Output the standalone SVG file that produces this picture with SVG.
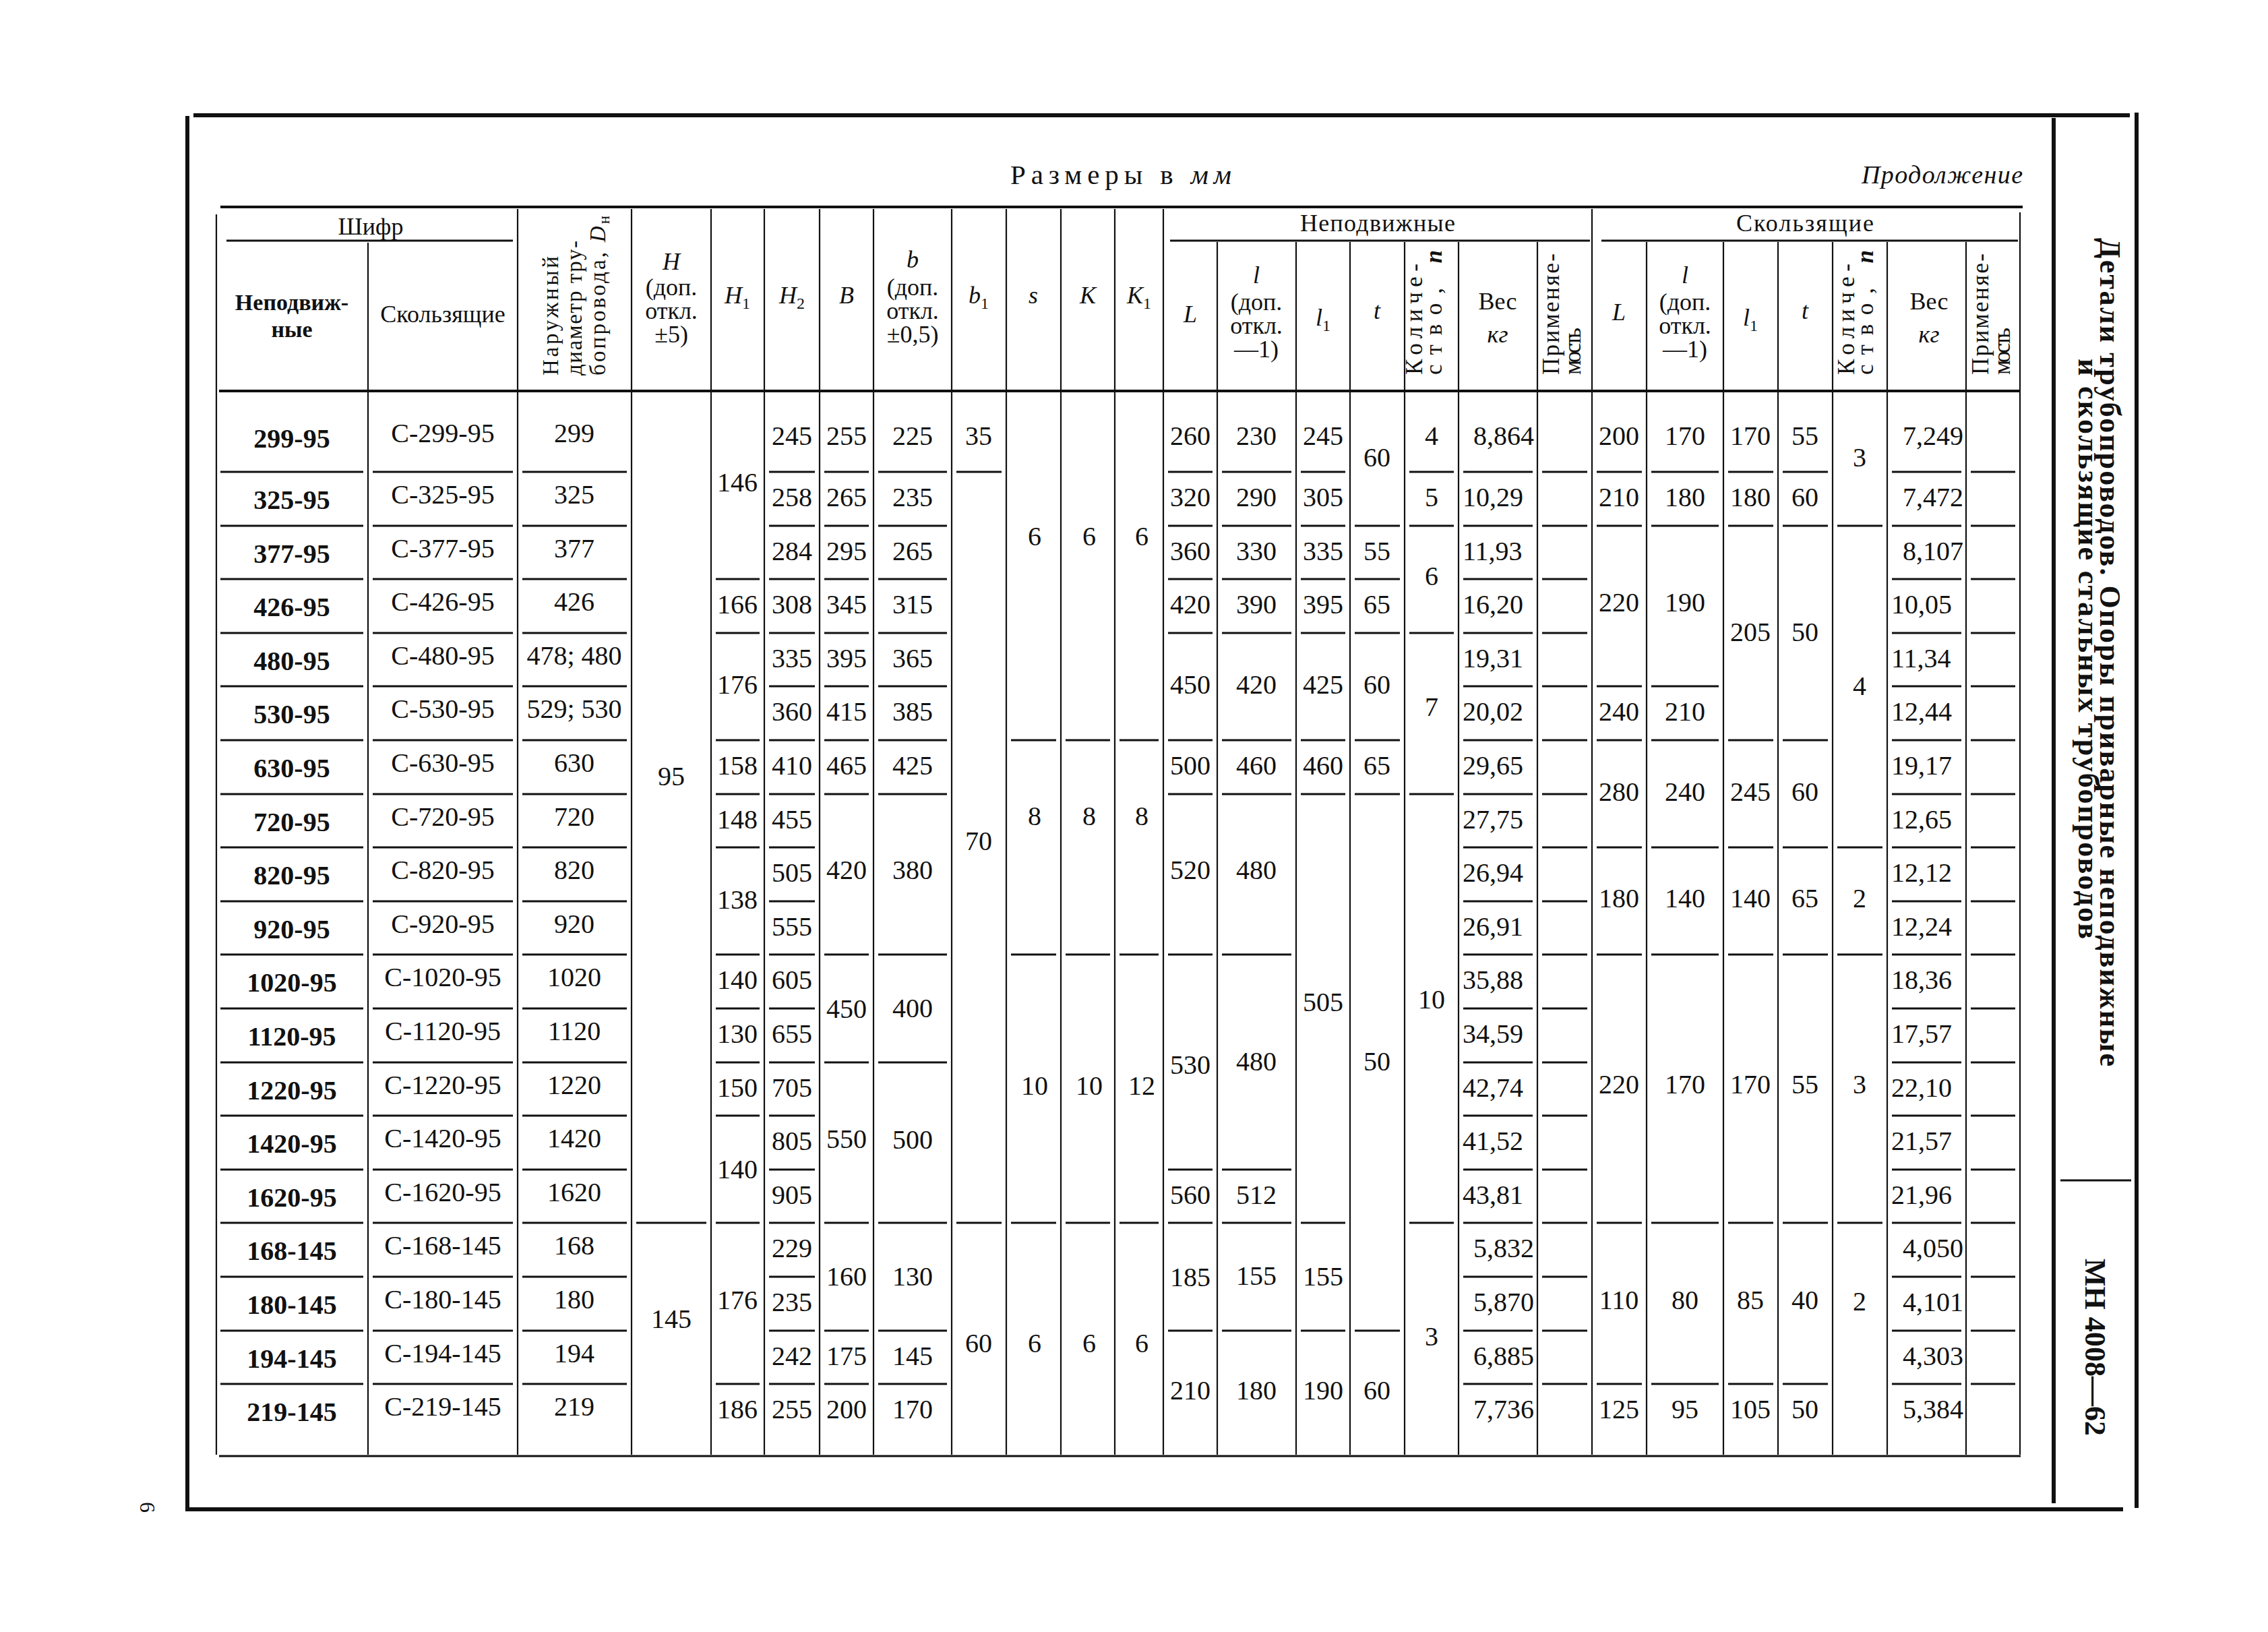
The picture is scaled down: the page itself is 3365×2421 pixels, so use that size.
<svg xmlns="http://www.w3.org/2000/svg" width="3365" height="2421" viewBox="0 0 3365 2421">
<style>
text{font-family:"Liberation Serif","Times New Roman",serif;fill:#111}
.d{font-size:40px;text-anchor:middle}
.b{font-weight:bold}
.st{text-anchor:start}
.en{text-anchor:end}
.h{font-size:36px;text-anchor:middle}
.i{font-style:italic}
.sub{font-size:24px;font-style:normal}
.rv{font-size:33px}
.rq{font-size:35px}
.ttl{font-size:44px;font-weight:bold}
.fr{stroke:#111;stroke-width:6;fill:none}
.tl{stroke:#111;stroke-width:4;fill:none}
.v{stroke:#111;stroke-width:2.2;fill:none}
.sp{stroke:#111;stroke-width:3;fill:none}
</style>
<rect width="3365" height="2421" fill="#fff"/>

<g id="frame">
<path class="fr" d="M287 171H3160M278 172V2242M278 2239H3150M3170 167V2237M3047 175V2230"/>
<path class="sp" d="M3057 1751H3162"/>
</g>

<g id="grid">
<path class="tl" d="M327 307H3001M325 580H2996"/>
<path class="sp" d="M325 2160H2998M336 357H761M1736 357H2359M2376 357H2994"/>
<path class="v" d="M321 318V2158M546 360V2158M768 310V2158M937 310V2158M1055 310V2158M1134 310V2158M1216 310V2158M1296 310V2158M1412 310V2158M1493 310V2158M1574 310V2158M1654 310V2158M1726 310V2158M1806 359V2158M1923 359V2158M2003 359V2158M2084 359V2158M2164 359V2158M2281 359V2158M2362 310V2158M2443 359V2158M2557 359V2158M2638 359V2158M2719 359V2158M2800 359V2158M2917 359V2158M2997 315V2158"/>
<path class="sp" d="M327 700h212m14 0h208m14 0h155m211 0h68m962 0h103m14 0h67m452 0h103m14 0h66
M327 780h212m14 0h208m14 0h155m211 0h68m962 0h103m14 0h67m452 0h103m14 0h66
M327 859h212m14 0h208m14 0h155m211 0h68m962 0h103m14 0h67m452 0h103m14 0h66
M327 939h212m14 0h208m14 0h155m211 0h68m962 0h103m14 0h67m452 0h103m14 0h66
M327 1018h212m14 0h208m14 0h155m211 0h68m962 0h103m14 0h67m452 0h103m14 0h66
M327 1098h212m14 0h208m14 0h155m211 0h68m962 0h103m14 0h67m452 0h103m14 0h66
M327 1178h212m14 0h208m14 0h155m211 0h68m962 0h103m14 0h67m452 0h103m14 0h66
M327 1257h212m14 0h208m14 0h155m211 0h68m962 0h103m14 0h67m452 0h103m14 0h66
M327 1337h212m14 0h208m14 0h155m211 0h68m962 0h103m14 0h67m452 0h103m14 0h66
M327 1416h212m14 0h208m14 0h155m211 0h68m962 0h103m14 0h67m452 0h103m14 0h66
M327 1496h212m14 0h208m14 0h155m211 0h68m962 0h103m14 0h67m452 0h103m14 0h66
M327 1576h212m14 0h208m14 0h155m211 0h68m962 0h103m14 0h67m452 0h103m14 0h66
M327 1655h212m14 0h208m14 0h155m211 0h68m962 0h103m14 0h67m452 0h103m14 0h66
M327 1735h212m14 0h208m14 0h155m211 0h68m962 0h103m14 0h67m452 0h103m14 0h66
M327 1814h212m14 0h208m14 0h155m211 0h68m962 0h103m14 0h67m452 0h103m14 0h66
M327 1894h212m14 0h208m14 0h155m211 0h68m962 0h103m14 0h67m452 0h103m14 0h66
M327 1974h212m14 0h208m14 0h155m211 0h68m962 0h103m14 0h67m452 0h103m14 0h66
M327 2053h212m14 0h208m14 0h155m211 0h68m962 0h103m14 0h67m452 0h103m14 0h66"/>
<path class="sp" d="M944 1814H1048
M1062 859H1127M1062 939H1127M1062 1098H1127M1062 1178H1127M1062 1257H1127M1062 1416H1127M1062 1496H1127M1062 1576H1127M1062 1655H1127M1062 1814H1127M1062 2053H1127
M1223 700H1289M1223 780H1289M1223 859H1289M1223 939H1289M1223 1018H1289M1223 1098H1289M1223 1178H1289M1223 1416H1289M1223 1576H1289M1223 1814H1289M1223 1974H1289M1223 2053H1289
M1303 700H1405M1303 780H1405M1303 859H1405M1303 939H1405M1303 1018H1405M1303 1098H1405M1303 1178H1405M1303 1416H1405M1303 1576H1405M1303 1814H1405M1303 1974H1405M1303 2053H1405
M1419 700H1486M1419 1814H1486
M1500 1098H1567M1500 1416H1567M1500 1814H1567
M1581 1098H1647M1581 1416H1647M1581 1814H1647
M1661 1098H1719M1661 1416H1719M1661 1814H1719
M1733 700H1799M1733 780H1799M1733 859H1799M1733 939H1799M1733 1098H1799M1733 1178H1799M1733 1416H1799M1733 1735H1799M1733 1814H1799M1733 1974H1799
M1813 700H1916M1813 780H1916M1813 859H1916M1813 939H1916M1813 1098H1916M1813 1178H1916M1813 1416H1916M1813 1735H1916M1813 1814H1916M1813 1974H1916
M1930 700H1996M1930 780H1996M1930 859H1996M1930 939H1996M1930 1098H1996M1930 1178H1996M1930 1814H1996M1930 1974H1996
M2010 780H2077M2010 859H2077M2010 939H2077M2010 1098H2077M2010 1178H2077M2010 1974H2077
M2091 700H2157M2091 780H2157M2091 939H2157M2091 1178H2157M2091 1814H2157
M2369 700H2436M2369 780H2436M2369 1018H2436M2369 1098H2436M2369 1257H2436M2369 1416H2436M2369 1814H2436M2369 2053H2436
M2450 700H2550M2450 780H2550M2450 1018H2550M2450 1098H2550M2450 1257H2550M2450 1416H2550M2450 1814H2550M2450 2053H2550
M2564 700H2631M2564 780H2631M2564 1098H2631M2564 1257H2631M2564 1416H2631M2564 1814H2631M2564 2053H2631
M2645 700H2712M2645 780H2712M2645 1098H2712M2645 1257H2712M2645 1416H2712M2645 1814H2712M2645 2053H2712
M2726 780H2793M2726 1257H2793M2726 1416H2793M2726 1814H2793"/>
</g>

<g id="captions">
<text x="1499" y="273" style="font-size:41px" textLength="328" lengthAdjust="spacing">Размеры в <tspan font-style="italic">мм</tspan></text>
<text x="2762" y="272" style="font-size:38px" font-style="italic" textLength="239" lengthAdjust="spacing">Продолжение</text>
</g>

<g id="title">
<text class="ttl" transform="translate(3116,353) rotate(90)" textLength="1229" lengthAdjust="spacing">Детали трубопроводов. Опоры приварные неподвижные</text>
<text class="ttl" transform="translate(3084,532) rotate(90)" textLength="861" lengthAdjust="spacing">и скользящие стальных трубопроводов</text>
<text class="ttl" transform="translate(3094,1867) rotate(90)" textLength="263" lengthAdjust="spacing">МН 4008—62</text>
<text transform="translate(208,2236) rotate(90)" style="font-size:32px" text-anchor="middle">6</text>
</g>

<g id="header">
<text class="h" x="550" y="348">Шифр</text>
<text class="h b" x="433" y="460" style="font-size:34px">Неподвиж-</text>
<text class="h b" x="433" y="500" style="font-size:34px">ные</text>
<text class="h" x="657" y="478">Скользящие</text>
<text class="rv" transform="translate(828,557) rotate(-90)" textLength="177" lengthAdjust="spacing">Наружный</text>
<text class="rv" transform="translate(863,557) rotate(-90)" textLength="200" lengthAdjust="spacing">диаметр тру-</text>
<text class="rv" transform="translate(898,557) rotate(-90)" textLength="237" lengthAdjust="spacing">бопровода, <tspan font-style="italic">D</tspan><tspan font-size="23" dy="6">н</tspan></text>
<text class="h i" x="996" y="400">H</text>
<text class="h" x="996" y="438">(доп.</text>
<text class="h" x="996" y="473">откл.</text>
<text class="h" x="996" y="508">±5)</text>
<text class="h i" x="1094" y="450">H<tspan class="sub" dy="8">1</tspan></text>
<text class="h i" x="1175" y="450">H<tspan class="sub" dy="8">2</tspan></text>
<text class="h i" x="1256" y="450">B</text>
<text class="h i" x="1354" y="397">b</text>
<text class="h" x="1354" y="438">(доп.</text>
<text class="h" x="1354" y="473">откл.</text>
<text class="h" x="1354" y="508">±0,5)</text>
<text class="h i" x="1452" y="450">b<tspan class="sub" dy="8">1</tspan></text>
<text class="h i" x="1533" y="450">s</text>
<text class="h i" x="1614" y="450">K</text>
<text class="h i" x="1690" y="450">K<tspan class="sub" dy="8">1</tspan></text>
<text class="h" x="2044" y="343" textLength="230" lengthAdjust="spacing">Неподвижные</text>
<text class="h i" x="1766" y="478">L</text>
<text class="h i" x="1864" y="420">l</text>
<text class="h" x="1864" y="460">(доп.</text>
<text class="h" x="1864" y="495">откл.</text>
<text class="h" x="1864" y="530">—1)</text>
<text class="h i" x="1963" y="483">l<tspan class="sub" dy="8">1</tspan></text>
<text class="h i" x="2043" y="473">t</text>
<text class="rq" transform="translate(2110,556) rotate(-90)" textLength="165" lengthAdjust="spacing">Количе-</text>
<text class="rq" transform="translate(2139,556) rotate(-90)" textLength="185" lengthAdjust="spacing">ство, <tspan class="b i">n</tspan></text>
<text class="h" x="2222" y="459">Вес</text>
<text class="h i" x="2222" y="508">кг</text>
<text class="rq" transform="translate(2313,556) rotate(-90)" textLength="180" lengthAdjust="spacing">Применяе-</text>
<text class="rq" transform="translate(2345,556) rotate(-90)" textLength="70" lengthAdjust="spacing">мость</text>
<text class="h" x="2678" y="343" textLength="204" lengthAdjust="spacing">Скользящие</text>
<text class="h i" x="2402" y="475">L</text>
<text class="h i" x="2500" y="420">l</text>
<text class="h" x="2500" y="460">(доп.</text>
<text class="h" x="2500" y="495">откл.</text>
<text class="h" x="2500" y="530">—1)</text>
<text class="h i" x="2597" y="483">l<tspan class="sub" dy="8">1</tspan></text>
<text class="h i" x="2678" y="473">t</text>
<text class="rq" transform="translate(2751,556) rotate(-90)" textLength="165" lengthAdjust="spacing">Количе-</text>
<text class="rq" transform="translate(2779,556) rotate(-90)" textLength="185" lengthAdjust="spacing">ство, <tspan class="b i">n</tspan></text>
<text class="h" x="2862" y="459">Вес</text>
<text class="h i" x="2862" y="508">кг</text>
<text class="rq" transform="translate(2950,556) rotate(-90)" textLength="180" lengthAdjust="spacing">Применяе-</text>
<text class="rq" transform="translate(2982,556) rotate(-90)" textLength="70" lengthAdjust="spacing">мость</text>
</g>

<g id="col-A" class="d b">
<text x="433" y="664">299-95</text><text x="433" y="755">325-95</text><text x="433" y="835">377-95</text><text x="433" y="914">426-95</text><text x="433" y="994">480-95</text><text x="433" y="1073">530-95</text><text x="433" y="1153">630-95</text><text x="433" y="1233">720-95</text><text x="433" y="1312">820-95</text><text x="433" y="1392">920-95</text><text x="433" y="1471">1020-95</text><text x="433" y="1551">1120-95</text><text x="433" y="1631">1220-95</text><text x="433" y="1710">1420-95</text><text x="433" y="1790">1620-95</text><text x="433" y="1869">168-145</text><text x="433" y="1949">180-145</text><text x="433" y="2029">194-145</text><text x="433" y="2108">219-145</text>
</g>
<g id="col-B" class="d">
<text x="657" y="656">С-299-95</text><text x="657" y="747">С-325-95</text><text x="657" y="827">С-377-95</text><text x="657" y="906">С-426-95</text><text x="657" y="986">С-480-95</text><text x="657" y="1065">С-530-95</text><text x="657" y="1145">С-630-95</text><text x="657" y="1225">С-720-95</text><text x="657" y="1304">С-820-95</text><text x="657" y="1384">С-920-95</text><text x="657" y="1463">С-1020-95</text><text x="657" y="1543">С-1120-95</text><text x="657" y="1623">С-1220-95</text><text x="657" y="1702">С-1420-95</text><text x="657" y="1782">С-1620-95</text><text x="657" y="1861">С-168-145</text><text x="657" y="1941">С-180-145</text><text x="657" y="2021">С-194-145</text><text x="657" y="2100">С-219-145</text>
</g>
<g id="col-C" class="d">
<text x="852" y="656">299</text><text x="852" y="747">325</text><text x="852" y="827">377</text><text x="852" y="906">426</text><text x="852" y="986">478; 480</text><text x="852" y="1065">529; 530</text><text x="852" y="1145">630</text><text x="852" y="1225">720</text><text x="852" y="1304">820</text><text x="852" y="1384">920</text><text x="852" y="1463">1020</text><text x="852" y="1543">1120</text><text x="852" y="1623">1220</text><text x="852" y="1702">1420</text><text x="852" y="1782">1620</text><text x="852" y="1861">168</text><text x="852" y="1941">180</text><text x="852" y="2021">194</text><text x="852" y="2100">219</text>
</g>
<g id="col-H" class="d">
<text x="996" y="1165">95</text><text x="996" y="1970">145</text>
</g>
<g id="col-H1" class="d">
<text x="1094" y="729">146</text><text x="1094" y="910">166</text><text x="1094" y="1029">176</text><text x="1094" y="1149">158</text><text x="1094" y="1229">148</text><text x="1094" y="1348">138</text><text x="1094" y="1467">140</text><text x="1094" y="1547">130</text><text x="1094" y="1627">150</text><text x="1094" y="1748">140</text><text x="1094" y="1942">176</text><text x="1094" y="2104">186</text>
</g>
<g id="col-H2" class="d">
<text x="1175" y="660">245</text><text x="1175" y="751">258</text><text x="1175" y="831">284</text><text x="1175" y="910">308</text><text x="1175" y="990">335</text><text x="1175" y="1069">360</text><text x="1175" y="1149">410</text><text x="1175" y="1229">455</text><text x="1175" y="1308">505</text><text x="1175" y="1388">555</text><text x="1175" y="1467">605</text><text x="1175" y="1547">655</text><text x="1175" y="1627">705</text><text x="1175" y="1706">805</text><text x="1175" y="1786">905</text><text x="1175" y="1865">229</text><text x="1175" y="1945">235</text><text x="1175" y="2025">242</text><text x="1175" y="2104">255</text>
</g>
<g id="col-B-size" class="d">
<text x="1256" y="660">255</text><text x="1256" y="751">265</text><text x="1256" y="831">295</text><text x="1256" y="910">345</text><text x="1256" y="990">395</text><text x="1256" y="1069">415</text><text x="1256" y="1149">465</text><text x="1256" y="1304">420</text><text x="1256" y="1510">450</text><text x="1256" y="1703">550</text><text x="1256" y="1907">160</text><text x="1256" y="2025">175</text><text x="1256" y="2104">200</text>
</g>
<g id="col-b" class="d">
<text x="1354" y="660">225</text><text x="1354" y="751">235</text><text x="1354" y="831">265</text><text x="1354" y="910">315</text><text x="1354" y="990">365</text><text x="1354" y="1069">385</text><text x="1354" y="1149">425</text><text x="1354" y="1304">380</text><text x="1354" y="1509">400</text><text x="1354" y="1704">500</text><text x="1354" y="1907">130</text><text x="1354" y="2025">145</text><text x="1354" y="2104">170</text>
</g>
<g id="col-b1" class="d">
<text x="1452" y="660">35</text><text x="1452" y="1261">70</text><text x="1452" y="2006">60</text>
</g>
<g id="col-s" class="d">
<text x="1535" y="809">6</text><text x="1535" y="1224">8</text><text x="1535" y="1624">10</text><text x="1535" y="2006">6</text>
</g>
<g id="col-K" class="d">
<text x="1616" y="809">6</text><text x="1616" y="1224">8</text><text x="1616" y="1624">10</text><text x="1616" y="2006">6</text>
</g>
<g id="col-K1" class="d">
<text x="1694" y="809">6</text><text x="1694" y="1224">8</text><text x="1694" y="1624">12</text><text x="1694" y="2006">6</text>
</g>
<g id="fixed-L" class="d">
<text x="1766" y="660">260</text><text x="1766" y="751">320</text><text x="1766" y="831">360</text><text x="1766" y="910">420</text><text x="1766" y="1029">450</text><text x="1766" y="1149">500</text><text x="1766" y="1304">520</text><text x="1766" y="1593">530</text><text x="1766" y="1786">560</text><text x="1766" y="1908">185</text><text x="1766" y="2076">210</text>
</g>
<g id="fixed-l" class="d">
<text x="1864" y="660">230</text><text x="1864" y="751">290</text><text x="1864" y="831">330</text><text x="1864" y="910">390</text><text x="1864" y="1029">420</text><text x="1864" y="1149">460</text><text x="1864" y="1304">480</text><text x="1864" y="1588">480</text><text x="1864" y="1786">512</text><text x="1864" y="1906">155</text><text x="1864" y="2076">180</text>
</g>
<g id="fixed-l1" class="d">
<text x="1963" y="660">245</text><text x="1963" y="751">305</text><text x="1963" y="831">335</text><text x="1963" y="910">395</text><text x="1963" y="1029">425</text><text x="1963" y="1149">460</text><text x="1963" y="1500">505</text><text x="1963" y="1907">155</text><text x="1963" y="2076">190</text>
</g>
<g id="fixed-t" class="d">
<text x="2043" y="692">60</text><text x="2043" y="831">55</text><text x="2043" y="910">65</text><text x="2043" y="1029">60</text><text x="2043" y="1149">65</text><text x="2043" y="1588">50</text><text x="2043" y="2076">60</text>
</g>
<g id="fixed-n" class="d">
<text x="2124" y="660">4</text><text x="2124" y="751">5</text><text x="2124" y="868">6</text><text x="2124" y="1062">7</text><text x="2124" y="1496">10</text><text x="2124" y="1996">3</text>
</g>
<g id="fixed-weight" class="d">
<text class="en" x="2276" y="660">8,864</text><text class="st" x="2170" y="751">10,29</text><text class="st" x="2170" y="831">11,93</text><text class="st" x="2170" y="910">16,20</text><text class="st" x="2170" y="990">19,31</text><text class="st" x="2170" y="1069">20,02</text><text class="st" x="2170" y="1149">29,65</text><text class="st" x="2170" y="1229">27,75</text><text class="st" x="2170" y="1308">26,94</text><text class="st" x="2170" y="1388">26,91</text><text class="st" x="2170" y="1467">35,88</text><text class="st" x="2170" y="1547">34,59</text><text class="st" x="2170" y="1627">42,74</text><text class="st" x="2170" y="1706">41,52</text><text class="st" x="2170" y="1786">43,81</text><text class="en" x="2276" y="1865">5,832</text><text class="en" x="2276" y="1945">5,870</text><text class="en" x="2276" y="2025">6,885</text><text class="en" x="2276" y="2104">7,736</text>
</g>
<g id="slide-L" class="d">
<text x="2402" y="660">200</text><text x="2402" y="751">210</text><text x="2402" y="907">220</text><text x="2402" y="1069">240</text><text x="2402" y="1188">280</text><text x="2402" y="1346">180</text><text x="2402" y="1622">220</text><text x="2402" y="1942">110</text><text x="2402" y="2104">125</text>
</g>
<g id="slide-l" class="d">
<text x="2500" y="660">170</text><text x="2500" y="751">180</text><text x="2500" y="907">190</text><text x="2500" y="1069">210</text><text x="2500" y="1188">240</text><text x="2500" y="1346">140</text><text x="2500" y="1622">170</text><text x="2500" y="1942">80</text><text x="2500" y="2104">95</text>
</g>
<g id="slide-l1" class="d">
<text x="2597" y="660">170</text><text x="2597" y="751">180</text><text x="2597" y="951">205</text><text x="2597" y="1188">245</text><text x="2597" y="1346">140</text><text x="2597" y="1622">170</text><text x="2597" y="1942">85</text><text x="2597" y="2104">105</text>
</g>
<g id="slide-t" class="d">
<text x="2678" y="660">55</text><text x="2678" y="751">60</text><text x="2678" y="951">50</text><text x="2678" y="1188">60</text><text x="2678" y="1346">65</text><text x="2678" y="1622">55</text><text x="2678" y="1942">40</text><text x="2678" y="2104">50</text>
</g>
<g id="slide-n" class="d">
<text x="2759" y="692">3</text><text x="2759" y="1031">4</text><text x="2759" y="1346">2</text><text x="2759" y="1622">3</text><text x="2759" y="1944">2</text>
</g>
<g id="slide-weight" class="d">
<text class="en" x="2913" y="660">7,249</text><text class="en" x="2913" y="751">7,472</text><text class="en" x="2913" y="831">8,107</text><text class="st" x="2806" y="910">10,05</text><text class="st" x="2806" y="990">11,34</text><text class="st" x="2806" y="1069">12,44</text><text class="st" x="2806" y="1149">19,17</text><text class="st" x="2806" y="1229">12,65</text><text class="st" x="2806" y="1308">12,12</text><text class="st" x="2806" y="1388">12,24</text><text class="st" x="2806" y="1467">18,36</text><text class="st" x="2806" y="1547">17,57</text><text class="st" x="2806" y="1627">22,10</text><text class="st" x="2806" y="1706">21,57</text><text class="st" x="2806" y="1786">21,96</text><text class="en" x="2913" y="1865">4,050</text><text class="en" x="2913" y="1945">4,101</text><text class="en" x="2913" y="2025">4,303</text><text class="en" x="2913" y="2104">5,384</text>
</g>
</svg>
